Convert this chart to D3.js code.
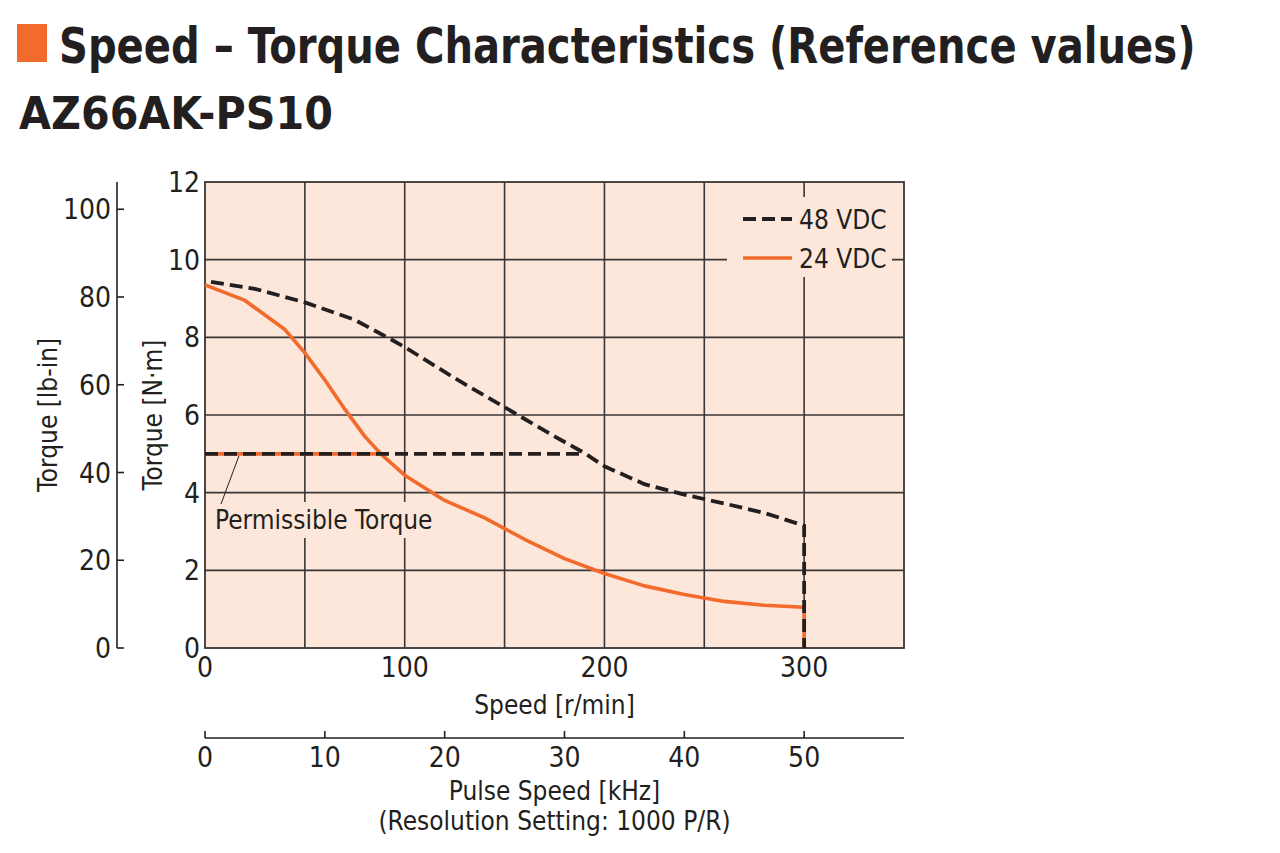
<!DOCTYPE html>
<html>
<head>
<meta charset="utf-8">
<script src="https://cdn.jsdelivr.net/npm/d3@7"></script>
<style>
  html, body { margin: 0; padding: 0; background: #ffffff; }
  svg { display: block; }
  text { font-family: "Liberation Sans Narrow", "Arial Narrow", "DejaVu Sans Condensed", sans-serif; fill: #231f20; }
</style>
</head>
<body>
<svg id="chart" width="1280" height="853"></svg>
<script>
// ---------------- DATA ----------------
const titleText = "Speed \u2013 Torque Characteristics (Reference values)";
const subtitleText = "AZ66AK-PS10";
const seriesNames = ["48 VDC", "24 VDC"];

// 48 VDC curve: speed [r/min], torque [N·m]
const speed48 = [3, 25, 50, 75, 92, 100, 125, 150, 175, 190, 200, 220, 240, 260, 280, 300, 300];
const torque48 = [9.43, 9.25, 8.9, 8.45, 7.98, 7.75, 6.95, 6.2, 5.45, 5.02, 4.68, 4.22, 3.95, 3.72, 3.48, 3.15, 0];

// 24 VDC curve
const speed24 = [0, 20, 40, 50, 60, 70, 80, 88, 100, 120, 140, 160, 180, 200, 220, 240, 260, 280, 300, 300];
const torque24 = [9.35, 8.95, 8.2, 7.6, 6.9, 6.15, 5.45, 5.0, 4.45, 3.8, 3.35, 2.8, 2.3, 1.92, 1.6, 1.38, 1.2, 1.1, 1.05, 0];

// Permissible torque limit and where each curve meets it
const permissibleTorque = 5.0;
const permissibleEnd48 = 188;
const permissibleEnd24 = 88;

// Axis ticks
const speedTicks = [0, 100, 200, 300];
const speedGrid = [50, 100, 150, 200, 250, 300];
const torqueTicksNm = [0, 2, 4, 6, 8, 10, 12];
const torqueTicksLbin = [0, 20, 40, 60, 80, 100];
const pulseTicks = [0, 10, 20, 30, 40, 50];
const nmToLbin = 8.851;
const rpmPerKHz = 6; // 1000 P/R resolution

// ---------------- LAYOUT ----------------
const svg = d3.select("#chart");
const X0 = 205, X1 = 904, Y0 = 648, Y1 = 182;
const orange = "#f26a2c";
const peach = "#fde7da";
const gridCol = "#3a3536";
const ink = "#231f20";

const x = d3.scaleLinear().domain([0, 350]).range([X0, X1]);
const y = d3.scaleLinear().domain([0, 12]).range([Y0, Y1]);
const yLb = d3.scaleLinear().domain([0, 12 * nmToLbin]).range([Y0, Y1]);
const xPulse = d3.scaleLinear().domain([0, 350 / rpmPerKHz]).range([X0, X1]);

// Title (scaled horizontally to the reference width)
svg.append("rect").attr("x", 17).attr("y", 24).attr("width", 30).attr("height", 38).attr("fill", orange);
function fitText(xPos, yPos, size, width, str) {
  const t = svg.append("text").attr("font-size", size).attr("font-weight", "bold").text(str);
  const w = t.node().getComputedTextLength();
  const s = width / w;
  t.attr("transform", `translate(${xPos},${yPos}) scale(${s},1)`);
  return t;
}
fitText(59, 63, 50, 1137, titleText);
fitText(19, 129, 44, 314, subtitleText);

// Plot background
svg.append("rect").attr("x", X0).attr("y", Y1).attr("width", X1 - X0).attr("height", Y0 - Y1).attr("fill", peach);

// Grid
const g = svg.append("g");
g.selectAll(".hg").data(torqueTicksNm.filter(d => d > 0 && d < 12)).join("line")
  .attr("x1", X0).attr("x2", X1).attr("y1", d => y(d)).attr("y2", d => y(d))
  .attr("stroke", gridCol).attr("stroke-width", 1.6);
g.selectAll(".vg").data(speedGrid).join("line")
  .attr("y1", Y1).attr("y2", Y0).attr("x1", d => x(d)).attr("x2", d => x(d))
  .attr("stroke", gridCol).attr("stroke-width", 1.6);

// Frame
svg.append("rect").attr("x", X0).attr("y", Y1).attr("width", X1 - X0).attr("height", Y0 - Y1)
  .attr("fill", "none").attr("stroke", gridCol).attr("stroke-width", 1.8);

// Legend box (covers the grid)
svg.append("rect").attr("x", 727).attr("y", 197).attr("width", 165).attr("height", 80).attr("fill", peach);
// Permissible torque label background
svg.append("rect").attr("x", 212).attr("y", 502).attr("width", 224).attr("height", 36).attr("fill", peach);

const line = d3.line().x(d => x(d[0])).y(d => y(d[1]));

// 24 VDC (orange, underneath)
const pts24 = speed24.map((s, i) => [s, torque24[i]]);
svg.append("path").attr("d", line(pts24)).attr("fill", "none")
  .attr("stroke", orange).attr("stroke-width", 3.6).attr("stroke-linejoin", "round");
svg.append("path").attr("d", line([[0, permissibleTorque], [permissibleEnd24, permissibleTorque]]))
  .attr("fill", "none").attr("stroke", orange).attr("stroke-width", 3.6);

// 48 VDC (black dashed, on top)
const pts48 = speed48.map((s, i) => [s, torque48[i]]);
svg.append("path").attr("d", line(pts48)).attr("fill", "none")
  .attr("stroke", ink).attr("stroke-width", 3.8).attr("stroke-dasharray", "13,6");
svg.append("path").attr("d", line([[0, permissibleTorque], [permissibleEnd48, permissibleTorque]]))
  .attr("fill", "none").attr("stroke", ink).attr("stroke-width", 3.8).attr("stroke-dasharray", "13,6");

// Permissible torque annotation
svg.append("line").attr("x1", 221).attr("y1", 504).attr("x2", x(17)).attr("y2", y(permissibleTorque) + 2)
  .attr("stroke", ink).attr("stroke-width", 1);
svg.append("text").attr("x", 215).attr("y", 529).attr("font-size", 26).text("Permissible Torque");

// Legend
const leg = svg.append("g");
leg.append("line").attr("x1", 743).attr("x2", 792).attr("y1", 219).attr("y2", 219)
  .attr("stroke", ink).attr("stroke-width", 3.8).attr("stroke-dasharray", "13,6");
leg.append("line").attr("x1", 743).attr("x2", 792).attr("y1", 258).attr("y2", 258)
  .attr("stroke", orange).attr("stroke-width", 3.6);
leg.append("text").attr("x", 799).attr("y", 229).attr("font-size", 26).text(seriesNames[0]);
leg.append("text").attr("x", 799).attr("y", 268).attr("font-size", 26).text(seriesNames[1]);

// N·m axis labels
svg.append("g").selectAll("text").data(torqueTicksNm).join("text")
  .attr("x", 200).attr("y", d => y(d) + 10).attr("text-anchor", "end").attr("font-size", 28)
  .text(d => d);

// lb-in axis
const AX = 117;
svg.append("line").attr("x1", AX).attr("x2", AX).attr("y1", Y1).attr("y2", Y0).attr("stroke", ink).attr("stroke-width", 1.6);
svg.append("g").selectAll("line").data(torqueTicksLbin).join("line")
  .attr("x1", AX).attr("x2", AX + 7).attr("y1", d => yLb(d)).attr("y2", d => yLb(d))
  .attr("stroke", ink).attr("stroke-width", 1.6);
svg.append("g").selectAll("text").data(torqueTicksLbin).join("text")
  .attr("x", 111).attr("y", d => yLb(d) + 10).attr("text-anchor", "end").attr("font-size", 28)
  .text(d => d);

// Y axis titles
svg.append("text").attr("transform", `translate(57,${(Y0 + Y1) / 2}) rotate(-90)`)
  .attr("text-anchor", "middle").attr("font-size", 26).text("Torque [lb-in]");
svg.append("text").attr("transform", `translate(162,${(Y0 + Y1) / 2}) rotate(-90)`)
  .attr("text-anchor", "middle").attr("font-size", 26).text("Torque [N\u00b7m]");

// Speed axis labels
svg.append("g").selectAll("text").data(speedTicks).join("text")
  .attr("x", d => x(d)).attr("y", 677).attr("text-anchor", "middle").attr("font-size", 28)
  .text(d => d);
svg.append("text").attr("x", (X0 + X1) / 2).attr("y", 714).attr("text-anchor", "middle")
  .attr("font-size", 26).text("Speed [r/min]");

// Pulse speed axis
const PY = 738;
svg.append("line").attr("x1", X0).attr("x2", X1).attr("y1", PY).attr("y2", PY).attr("stroke", ink).attr("stroke-width", 1.6);
svg.append("g").selectAll("line").data(pulseTicks).join("line")
  .attr("x1", d => xPulse(d)).attr("x2", d => xPulse(d)).attr("y1", PY).attr("y2", PY - 7)
  .attr("stroke", ink).attr("stroke-width", 1.6);
svg.append("g").selectAll("text").data(pulseTicks).join("text")
  .attr("x", d => xPulse(d)).attr("y", 767).attr("text-anchor", "middle").attr("font-size", 28)
  .text(d => d);
svg.append("text").attr("x", (X0 + X1) / 2).attr("y", 800).attr("text-anchor", "middle")
  .attr("font-size", 26).text("Pulse Speed [kHz]");
svg.append("text").attr("x", (X0 + X1) / 2).attr("y", 830).attr("text-anchor", "middle")
  .attr("font-size", 26).text("(Resolution Setting: 1000 P/R)");
</script>
</body>
</html>
